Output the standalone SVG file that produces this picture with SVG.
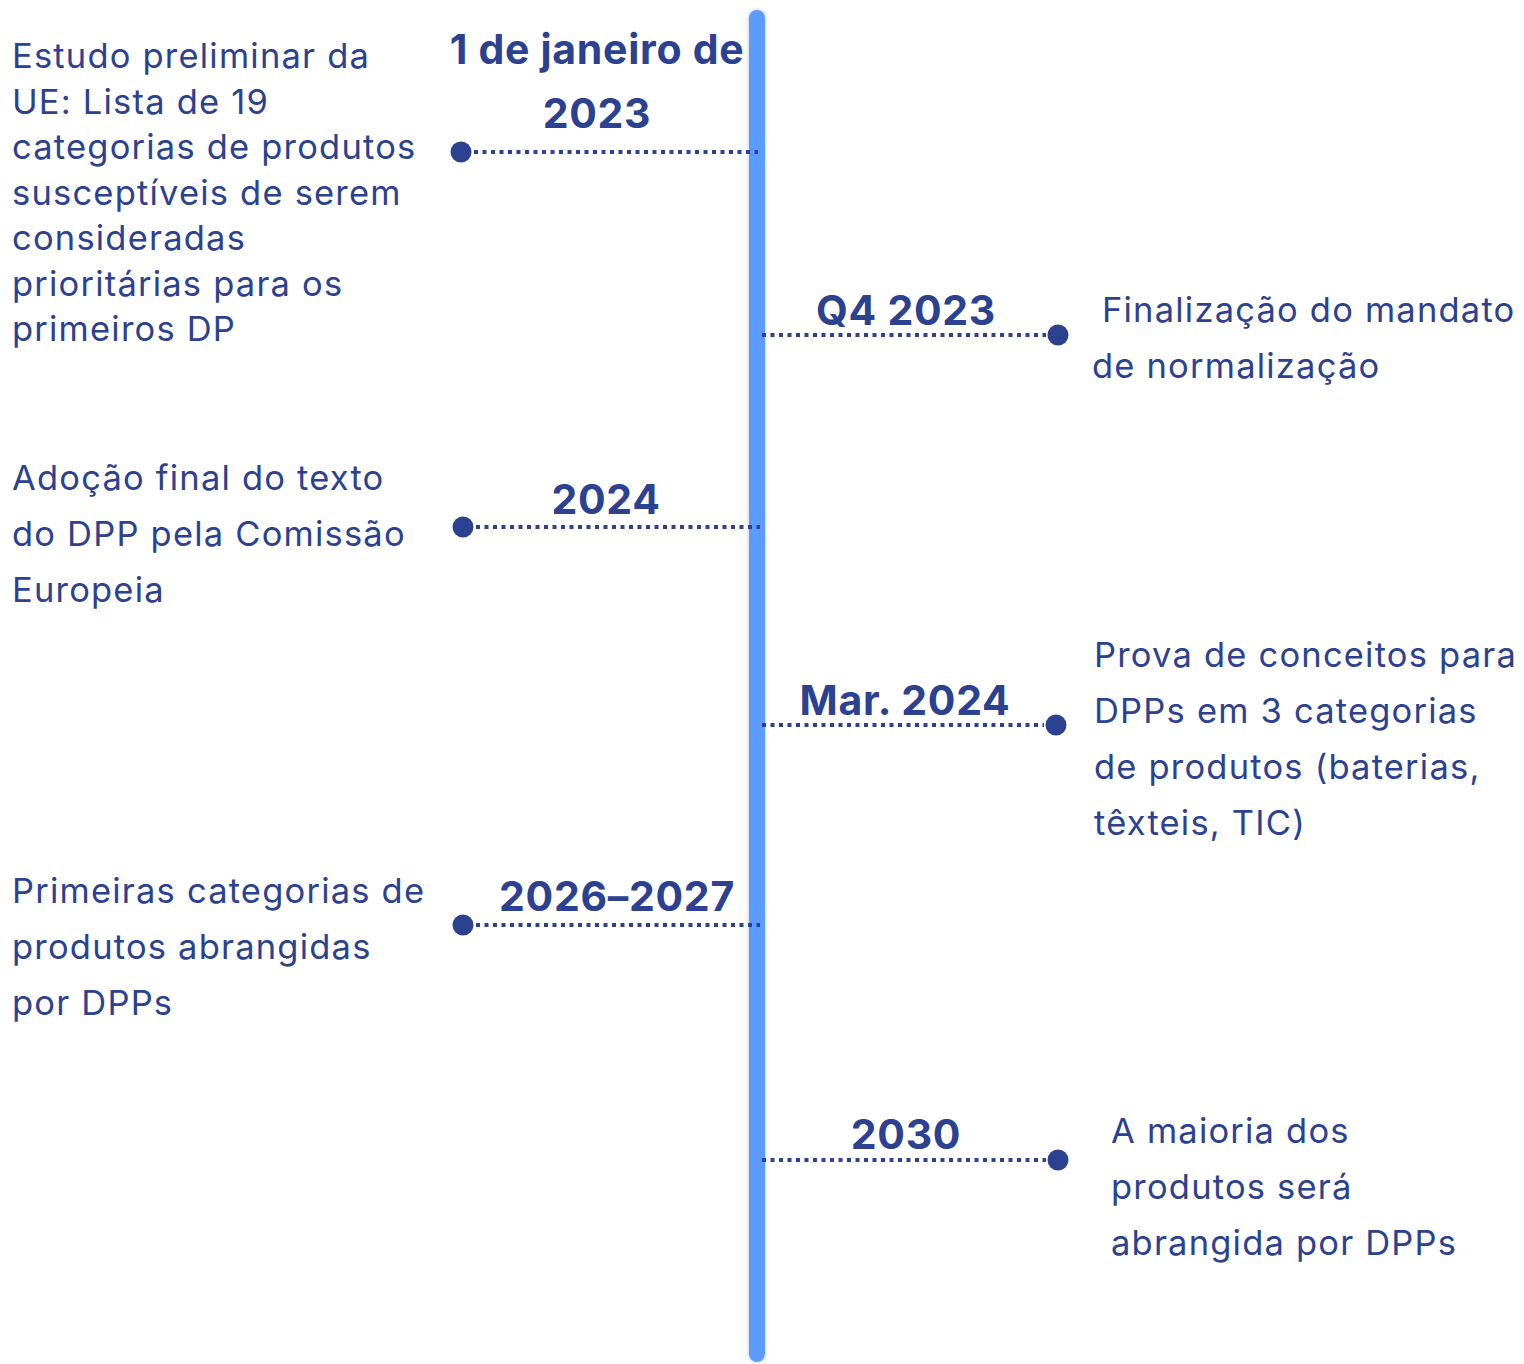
<svg xmlns="http://www.w3.org/2000/svg" width="1524" height="1364" viewBox="0 0 1524 1364">
<style>
.t{font-family:Inter,"Noto Sans",sans-serif;font-size:34.5px;letter-spacing:1.2px;fill:#2c418f}
.b{font-family:Inter,"Noto Sans",sans-serif;font-size:41px;font-weight:700;letter-spacing:0.7px;fill:#2c418f;text-anchor:middle}
.d{stroke:#2c418f;stroke-width:4;stroke-dasharray:4 4.5;fill:none}
.dot{fill:#2c418f}
</style>
<defs>
<filter id="sh" x="-50%" y="-2%" width="200%" height="104%"><feDropShadow dx="0" dy="0" stdDeviation="2" flood-color="#000" flood-opacity="0.25"/></filter>
</defs>
<g id="timeline">
<rect x="749" y="10" width="16" height="1352" rx="8" fill="#5c9bff" filter="url(#sh)"/>
</g>
<g id="connectors">
<line class="d" x1="474" y1="152" x2="758" y2="152"/>
<line class="d" x1="762" y1="335" x2="1046" y2="335"/>
<line class="d" x1="476" y1="527" x2="760" y2="527"/>
<line class="d" x1="762" y1="725" x2="1044" y2="725"/>
<line class="d" x1="476" y1="925" x2="760" y2="925"/>
<line class="d" x1="762" y1="1160" x2="1046" y2="1160"/>
</g>
<g id="e1">
<circle class="dot" cx="461" cy="152" r="10.5"/>
<text class="b" x="597" y="64">1 de janeiro de</text>
<text class="b" x="597" y="128">2023</text>
<text class="t" x="12" y="68"><tspan x="12">Estudo preliminar da</tspan><tspan x="12" dy="45.5">UE: Lista de 19</tspan><tspan x="12" dy="45.5">categorias de produtos</tspan><tspan x="12" dy="45.5">susceptíveis de serem</tspan><tspan x="12" dy="45.5">consideradas</tspan><tspan x="12" dy="45.5">prioritárias para os</tspan><tspan x="12" dy="45.5">primeiros DP</tspan></text>
</g>
<g id="e2">
<circle class="dot" cx="1058" cy="335" r="10.5"/>
<text class="b" x="906" y="325">Q4 2023</text>
<text class="t" x="1102" y="322"><tspan x="1102">Finalização do mandato</tspan><tspan x="1092" dy="56">de normalização</tspan></text>
</g>
<g id="e3">
<circle class="dot" cx="463" cy="527" r="10.5"/>
<text class="b" x="606" y="514">2024</text>
<text class="t" x="12" y="490"><tspan x="12">Adoção final do texto</tspan><tspan x="12" dy="56">do DPP pela Comissão</tspan><tspan x="12" dy="56">Europeia</tspan></text>
</g>
<g id="e4">
<circle class="dot" cx="1056" cy="725" r="10.5"/>
<text class="b" x="905" y="715">Mar. 2024</text>
<text class="t" x="1094" y="667"><tspan x="1094">Prova de conceitos para</tspan><tspan x="1094" dy="56">DPPs em 3 categorias</tspan><tspan x="1094" dy="56">de produtos (baterias,</tspan><tspan x="1094" dy="56">têxteis, TIC)</tspan></text>
</g>
<g id="e5">
<circle class="dot" cx="463" cy="925" r="10.5"/>
<text class="b" x="617" y="911">2026–2027</text>
<text class="t" x="12" y="903"><tspan x="12">Primeiras categorias de</tspan><tspan x="12" dy="56">produtos abrangidas</tspan><tspan x="12" dy="56">por DPPs</tspan></text>
</g>
<g id="e6">
<circle class="dot" cx="1058" cy="1160" r="10.5"/>
<text class="b" x="906" y="1149">2030</text>
<text class="t" x="1111" y="1143"><tspan x="1111">A maioria dos</tspan><tspan x="1111" dy="56">produtos será</tspan><tspan x="1111" dy="56">abrangida por DPPs</tspan></text>
</g>
</svg>
